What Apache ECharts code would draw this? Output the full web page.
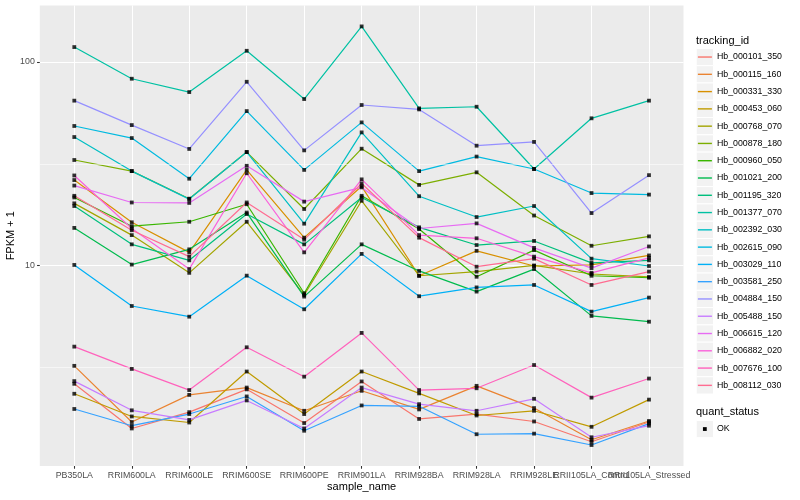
<!DOCTYPE html>
<html><head><meta charset="utf-8">
<script src="https://cdn.jsdelivr.net/npm/echarts@6/dist/echarts.min.js"></script>
<style>html,body{margin:0;padding:0;background:#fff}#c{width:800px;height:500px}</style>
</head><body><div id="c"></div>
<script>
const categories = ['PB350LA','RRIM600LA','RRIM600LE','RRIM600SE','RRIM600PE','RRIM901LA','RRIM928BA','RRIM928LA','RRIM928LE','RRII105LA_Control','RRII105LA_Stressed'];
const trackingIds = ['Hb_000101_350','Hb_000115_160','Hb_000331_330','Hb_000453_060','Hb_000768_070','Hb_000878_180','Hb_000960_050','Hb_001021_200','Hb_001195_320','Hb_001377_070','Hb_002392_030','Hb_002615_090','Hb_003029_110','Hb_003581_250','Hb_004884_150','Hb_005488_150','Hb_006615_120','Hb_006882_020','Hb_007676_100','Hb_008112_030'];
const lineColors = ['#F8766D','#EA8331','#D89000','#C09B00','#A3A500','#7CAE00','#39B600','#00BB4E','#00BF7D','#00C1A3','#00BFC4','#00BAE0','#00B0F6','#35A2FF','#9590FF','#C77CFF','#E76BF3','#FA62DB','#FF62BC','#FF6C91'];

// FPKM + 1 per tracking_id, in category order
const hb_000101_350 = [2.62, 1.58, 1.90, 2.46, 1.68, 2.69, 1.76, 1.86, 1.71, 1.36, 1.70];
const hb_000115_160 = [3.21, 1.70, 2.31, 2.51, 1.93, 2.42, 1.96, 2.56, 1.99, 1.39, 1.72];
const hb_000331_330 = [26.3, 16.3, 11.6, 29.5, 13.7, 24.5, 8.9, 11.8, 9.94, 10.06, 11.2];
const hb_000453_060 = [2.34, 1.81, 1.69, 3.01, 1.86, 3.01, 2.35, 1.83, 1.93, 1.61, 2.19];
const hb_000768_070 = [20.2, 14.1, 9.2, 16.4, 7.16, 20.8, 8.9, 9.33, 10.0, 9.08, 8.78];
const hb_000878_180 = [33.0, 29.1, 21.3, 36.1, 18.95, 37.5, 24.9, 28.7, 17.6, 12.5, 13.9];
const hb_000960_050 = [21.6, 15.6, 16.4, 20.0, 7.3, 22.0, 15.1, 8.8, 11.9, 8.9, 8.7];
const hb_001021_200 = [15.3, 10.1, 12.0, 18.2, 7.03, 12.7, 9.4, 7.44, 9.6, 5.65, 5.29];
const hb_001195_320 = [19.6, 12.7, 10.6, 17.9, 12.7, 21.6, 15.4, 12.6, 13.2, 10.3, 10.6];
const hb_001377_070 = [118.5, 82.8, 71.2, 113.6, 65.8, 149.7, 59.2, 60.3, 29.8, 52.9, 64.6];
const hb_002392_030 = [42.8, 29.1, 21.2, 36.1, 16.05, 45.1, 21.9, 17.3, 19.6, 10.8, 9.94];
const hb_002615_090 = [48.5, 42.3, 26.7, 57.4, 29.5, 50.5, 29.1, 34.3, 29.8, 22.7, 22.3];
const hb_003029_110 = [10.06, 6.32, 5.6, 8.91, 6.09, 11.4, 7.06, 7.8, 8.02, 5.93, 6.95];
const hb_003581_250 = [1.97, 1.63, 1.86, 2.27, 1.54, 2.05, 2.03, 1.48, 1.49, 1.31, 1.67];
const hb_004884_150 = [64.6, 49.0, 37.4, 80.0, 36.8, 61.5, 58.5, 38.8, 40.5, 18.1, 27.8];
const hb_005488_150 = [2.70, 1.94, 1.74, 2.17, 1.58, 2.51, 2.08, 1.93, 2.21, 1.43, 1.63];
const hb_006615_120 = [24.7, 20.4, 20.3, 30.9, 20.6, 24.2, 15.2, 16.1, 12.2, 9.7, 12.4];
const hb_006882_020 = [27.7, 15.2, 9.6, 28.4, 11.6, 26.5, 14.1, 13.6, 11.05, 9.2, 10.9];
const hb_007676_100 = [3.99, 3.10, 2.44, 3.96, 2.84, 4.66, 2.44, 2.49, 3.24, 2.24, 2.78];
const hb_008112_030 = [22.0, 14.9, 11.05, 20.4, 13.4, 25.3, 13.7, 9.86, 10.8, 8.02, 9.33];

const seriesValues = [hb_000101_350, hb_000115_160, hb_000331_330, hb_000453_060, hb_000768_070, hb_000878_180, hb_000960_050, hb_001021_200, hb_001195_320, hb_001377_070, hb_002392_030, hb_002615_090, hb_003029_110, hb_003581_250, hb_004884_150, hb_005488_150, hb_006615_120, hb_006882_020, hb_007676_100, hb_008112_030];

const yMinorTicks = [3.1623, 31.623];
const yMin = 1.033, yMax = 189.7;

const FONT = 'Liberation Sans, Arial, Helvetica, sans-serif';
const chart = echarts.init(document.getElementById('c'), null, {renderer: 'canvas'});

const series = [];
trackingIds.forEach((id, i) => {
  series.push({
    type: 'line', name: id, xAxisIndex: 1, yAxisIndex: 1,
    data: seriesValues[i], symbol: 'none', silent: true, z: 3,
    lineStyle: {color: lineColors[i], width: 1.2},
    itemStyle: {color: lineColors[i]}
  });
});
const points = [];
seriesValues.forEach(vals => vals.forEach((v, j) => points.push([categories[j], v])));
series.push({
  type: 'scatter', name: 'OK', xAxisIndex: 1, yAxisIndex: 1, data: points,
  symbol: 'rect', symbolSize: 3.8, itemStyle: {color: '#000'}, silent: true, z: 5
});
series.push({
  type: 'line', name: '_minor', xAxisIndex: 0, yAxisIndex: 0, data: [], z: 1, silent: true,
  markLine: {
    silent: true, symbol: ['none', 'none'], label: {show: false}, animation: false,
    lineStyle: {color: '#fff', width: 0.55, type: 'solid'},
    emphasis: {disabled: true},
    data: yMinorTicks.map(v => ({yAxis: v}))
  }
});

const KEY = 17.28, KEY_X = 696.2, KEY_TOP = 48.4;
const graphic = [];
trackingIds.forEach((id, i) => {
  graphic.push({type: 'rect', z: 1, silent: true,
    shape: {x: KEY_X, y: KEY_TOP + i * KEY, width: KEY, height: KEY},
    style: {fill: '#F2F2F2', stroke: '#fff', lineWidth: 1}});
});
graphic.push({type: 'text', x: 696, y: 40.7, silent: true,
  style: {text: 'tracking_id', fontSize: 11, fontFamily: FONT, fill: '#000', verticalAlign: 'middle'}});
graphic.push({type: 'text', x: 696, y: 412.3, silent: true,
  style: {text: 'quant_status', fontSize: 11, fontFamily: FONT, fill: '#000', verticalAlign: 'middle'}});
graphic.push({type: 'rect', z: 1, silent: true,
  shape: {x: KEY_X, y: 420.4, width: KEY, height: KEY},
  style: {fill: '#F2F2F2', stroke: '#fff', lineWidth: 1}});
graphic.push({type: 'rect', z: 2, silent: true,
  shape: {x: KEY_X + KEY / 2 - 1.9, y: 420.4 + KEY / 2 - 1.9, width: 3.8, height: 3.8},
  style: {fill: '#000'}});
graphic.push({type: 'text', x: 716.9, y: 429, silent: true,
  style: {text: 'OK', fontSize: 8.8, fontFamily: FONT, fill: '#000', verticalAlign: 'middle'}});

const option = {
  animation: false,
  backgroundColor: '#fff',
  textStyle: {fontFamily: FONT},
  grid: [
    {left: 39.8, right: 116.5, top: 5.5, bottom: 34, show: true, backgroundColor: '#EBEBEB', borderWidth: 0, containLabel: false, outerBoundsMode: 'none'},
    {left: 74.3, right: 151, top: 5.5, bottom: 34, show: false, containLabel: false, outerBoundsMode: 'none'}
  ],
  xAxis: [
    {type: 'value', gridIndex: 0, min: 0, max: 1, show: false},
    {type: 'category', gridIndex: 1, data: categories, boundaryGap: false,
      axisLine: {show: false},
      axisTick: {show: true, interval: 0, length: 2.75, lineStyle: {color: '#333', width: 1.07}},
      axisLabel: {interval: 0, margin: 4.7, fontSize: 8.8, color: '#4D4D4D', fontFamily: FONT},
      splitLine: {show: true, interval: 0, lineStyle: {color: '#fff', width: 1.07}},
      name: 'sample_name', nameLocation: 'middle', nameGap: 15.5, nameMoveOverlap: false,
      nameTextStyle: {fontSize: 11, color: '#000', fontFamily: FONT}}
  ],
  yAxis: [
    {type: 'log', logBase: 10, gridIndex: 0, min: yMin, max: yMax,
      axisLine: {show: false},
      axisTick: {show: true, length: 2.75, lineStyle: {color: '#333', width: 1.07}},
      axisLabel: {margin: 5, fontSize: 8.8, color: '#4D4D4D', fontFamily: FONT, showMinLabel: false, showMaxLabel: false},
      splitLine: {show: true, showMinLine: false, showMaxLine: false, lineStyle: {color: '#fff', width: 1.07}},
      name: 'FPKM + 1', nameLocation: 'middle', nameGap: 23, nameMoveOverlap: false,
      nameTextStyle: {fontSize: 11, color: '#000', fontFamily: FONT}},
    {type: 'log', logBase: 10, gridIndex: 1, min: yMin, max: yMax, show: false,
      splitLine: {show: false}}
  ],
  legend: {
    data: trackingIds.map((id, i) => ({name: id, itemStyle: {color: lineColors[i]}})),
    orient: 'vertical', left: 697.9, top: KEY_TOP, padding: 0, itemGap: 0,
    itemWidth: 14, itemHeight: 1.4, icon: 'rect', selectedMode: false, z: 4,
    textStyle: {fontSize: 8.8, lineHeight: KEY, color: '#000', fontFamily: FONT}
  },
  graphic: graphic,
  series: series
};
chart.setOption(option);
</script></body></html>
